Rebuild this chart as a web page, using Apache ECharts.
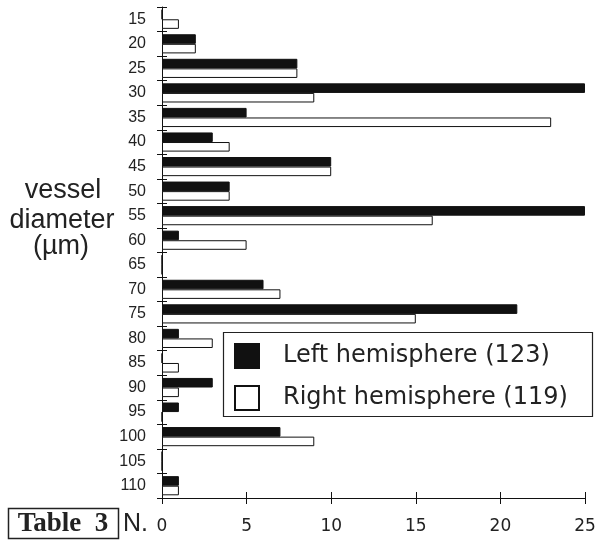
<!DOCTYPE html>
<html><head><meta charset="utf-8">
<script src="https://cdn.jsdelivr.net/npm/echarts@6/dist/echarts.min.js"></script>
<style>html,body{margin:0;padding:0;background:#fff}#c{width:599px;height:540px}</style>
</head><body><div id="c"></div>
<script>
const categories = ['15','20','25','30','35','40','45','50','55','60','65','70','75','80','85','90','95','100','105','110'];
const leftHemisphere = [0,2,8,25,5,3,10,4,25,1,0,6,21,1,0,3,1,7,0,1];
const rightHemisphere = [1,2,8,9,23,4,10,4,16,5,0,7,15,3,1,1,0,9,0,1];
const xTicks = [0,5,10,15,20,25];
const seriesNames = ['Left hemisphere (123)','Right hemisphere (119)'];

const chart = echarts.init(document.getElementById('c'), null, {renderer:'canvas'});
const font = 'Liberation Sans, Arial, Helvetica, sans-serif';
const wide = 'DejaVu Sans, sans-serif';
const tick = {color:'#111',width:1};
chart.setOption({
  backgroundColor:'#fff',
  animation:false,
  grid:{left:162,right:14,top:7,bottom:42,containLabel:false},
  xAxis:[
    {type:'value',min:xTicks[0],max:xTicks[xTicks.length-1],interval:5,position:'bottom',
      axisLine:{show:true,lineStyle:{color:'#111',width:1}},
      axisTick:{show:true,length:6,lineStyle:tick},
      splitLine:{show:false},
      axisLabel:{color:'#222',fontSize:17,fontFamily:wide,margin:20}},
    {type:'value',min:xTicks[0],max:xTicks[xTicks.length-1],interval:5,position:'bottom',
      axisLine:{show:false},
      axisTick:{show:true,inside:true,length:6,lineStyle:tick},
      splitLine:{show:false},axisLabel:{show:false}}
  ],
  yAxis:[
    {type:'category',data:categories,inverse:true,position:'left',
      axisLine:{show:true,lineStyle:{color:'#111',width:1}},
      axisTick:{show:true,length:5,lineStyle:tick},
      axisLabel:{color:'#222',fontSize:16,fontFamily:font,margin:16}},
    {type:'category',data:categories,inverse:true,position:'left',
      axisLine:{show:false},
      axisTick:{show:true,inside:true,length:5,lineStyle:tick},
      axisLabel:{show:false}}
  ],
  legend:{show:true,orient:'vertical',left:234,top:343,padding:0,itemWidth:24,itemHeight:24,itemGap:16,
    icon:'rect',
    textStyle:{fontSize:24,fontFamily:wide,color:'#222',padding:[0,0,0,19]},
    data:seriesNames},
  series:[
    {name:seriesNames[0],type:'bar',data:leftHemisphere,barGap:'0%',barCategoryGap:'22%',
      itemStyle:{color:'#111',borderColor:'#111',borderWidth:1}},
    {name:seriesNames[1],type:'bar',data:rightHemisphere,barGap:'0%',barCategoryGap:'22%',
      itemStyle:{color:'#fff',borderColor:'#111',borderWidth:1}}
  ],
  graphic:[
    {type:'rect',shape:{x:223.5,y:332.5,width:369,height:84},style:{fill:null,stroke:'#222',lineWidth:1.2},z:1},
    {type:'text',style:{text:'vessel',x:63,y:191,fontSize:27,fontFamily:font,fill:'#222',textAlign:'center',textVerticalAlign:'middle'}},
    {type:'text',style:{text:'diameter',x:62,y:221,fontSize:27,fontFamily:font,fill:'#222',textAlign:'center',textVerticalAlign:'middle'}},
    {type:'text',style:{text:'(\u00b5m)',x:61,y:247,fontSize:27,fontFamily:font,fill:'#222',textAlign:'center',textVerticalAlign:'middle'}},
    {type:'rect',shape:{x:8.5,y:508.5,width:110,height:30},style:{fill:null,stroke:'#222',lineWidth:1.5}},
    {type:'text',style:{text:'Table  3',x:63,y:524,fontSize:27,fontWeight:'bold',fontFamily:'Liberation Serif, Times New Roman, serif',fill:'#222',textAlign:'center',textVerticalAlign:'middle'}},
    {type:'text',style:{text:'N.',x:123,y:524,fontSize:25,fontFamily:font,fill:'#222',textAlign:'left',textVerticalAlign:'middle'}}
  ]
});
</script></body></html>
